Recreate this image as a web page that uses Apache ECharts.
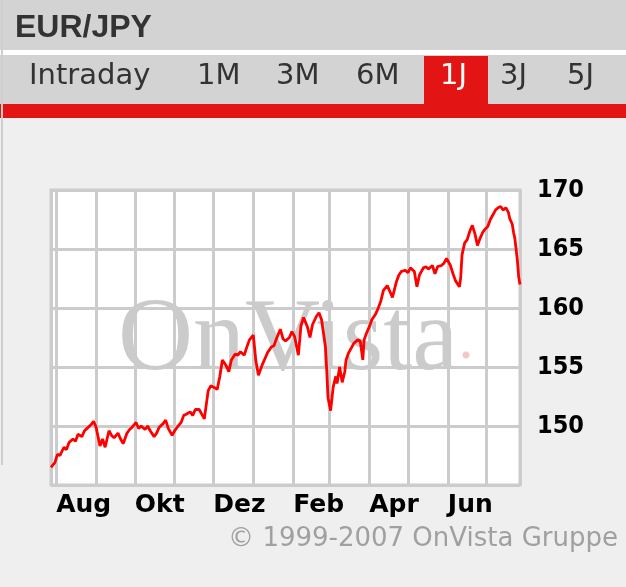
<!DOCTYPE html>
<html>
<head>
<meta charset="utf-8">
<script src="https://cdn.jsdelivr.net/npm/echarts@6/dist/echarts.min.js"></script>
<style>
html,body{margin:0;padding:0;background:#efefef;}
#chart{width:626px;height:587px;}
</style>
</head>
<body>
<div id="chart"></div>
<script>
const title = 'EUR/JPY';
const tabs = ['Intraday', '1M', '3M', '6M', '1J', '3J', '5J'];
const activeTab = '1J';
const monthNames = ['Jan','Feb','Mär','Apr','Mai','Jun','Jul','Aug','Sep','Okt','Nov','Dez'];
const yTicks = [145, 150, 155, 160, 165, 170];
const copyright = '© 1999-2007 OnVista Gruppe';

const dates = [
'2006-07-28','2006-07-31','2006-08-02','2006-08-04','2006-08-07','2006-08-09','2006-08-11','2006-08-14','2006-08-16','2006-08-18',
'2006-08-21','2006-08-23','2006-08-25','2006-08-28','2006-08-30','2006-09-01','2006-09-04','2006-09-06','2006-09-08','2006-09-11',
'2006-09-13','2006-09-15','2006-09-18','2006-09-20','2006-09-22','2006-09-25','2006-09-27','2006-09-29','2006-10-02','2006-10-04',
'2006-10-06','2006-10-09','2006-10-11','2006-10-13','2006-10-16','2006-10-18','2006-10-20','2006-10-23','2006-10-25','2006-10-27',
'2006-10-30','2006-11-01','2006-11-03','2006-11-06','2006-11-08','2006-11-10','2006-11-13','2006-11-15','2006-11-17','2006-11-20',
'2006-11-22','2006-11-24','2006-11-27','2006-11-29','2006-12-01','2006-12-04','2006-12-06','2006-12-08','2006-12-11','2006-12-13',
'2006-12-15','2006-12-18','2006-12-20','2006-12-22','2006-12-25','2006-12-27','2006-12-29','2007-01-01','2007-01-03','2007-01-05',
'2007-01-08','2007-01-10','2007-01-12','2007-01-15','2007-01-17','2007-01-19','2007-01-22','2007-01-24','2007-01-26','2007-01-29',
'2007-01-31','2007-02-02','2007-02-05','2007-02-07','2007-02-09','2007-02-12','2007-02-14','2007-02-16','2007-02-19','2007-02-21',
'2007-02-23','2007-02-26','2007-02-27','2007-02-28','2007-03-02','2007-03-04','2007-03-06','2007-03-07','2007-03-09','2007-03-11',
'2007-03-13','2007-03-14','2007-03-16','2007-03-18','2007-03-20','2007-03-23','2007-03-25','2007-03-27','2007-03-28','2007-03-30',
'2007-04-01','2007-04-03','2007-04-06','2007-04-08','2007-04-10','2007-04-12','2007-04-15','2007-04-17','2007-04-19','2007-04-22',
'2007-04-24','2007-04-26','2007-04-29','2007-05-01','2007-05-03','2007-05-06','2007-05-08','2007-05-10','2007-05-13','2007-05-15',
'2007-05-17','2007-05-20','2007-05-22','2007-05-24','2007-05-27','2007-05-29','2007-05-31','2007-06-03','2007-06-05','2007-06-07',
'2007-06-10','2007-06-11','2007-06-12','2007-06-14','2007-06-16','2007-06-18','2007-06-20','2007-06-22','2007-06-24','2007-06-26',
'2007-06-28','2007-06-30','2007-07-02','2007-07-04','2007-07-06','2007-07-08','2007-07-10','2007-07-12','2007-07-14','2007-07-16',
'2007-07-18','2007-07-19','2007-07-21','2007-07-22','2007-07-23','2007-07-24','2007-07-25','2007-07-26','2007-07-27'
];
const values = [
146.5,146.9,147.6,147.5,148.2,148.0,148.6,148.9,148.7,149.3,
149.1,149.6,149.8,150.1,150.4,149.9,148.3,148.9,148.2,149.6,
149.2,149.0,149.4,148.9,148.5,149.4,149.7,149.9,150.3,149.8,
150.0,149.7,150.0,149.6,149.1,149.4,149.9,150.2,150.5,149.8,
149.2,149.6,149.9,150.3,150.9,151.0,151.2,150.9,151.4,151.4,
151.0,150.6,153.0,153.4,153.3,153.1,154.2,155.6,155.1,154.6,
155.6,156.1,156.0,156.3,156.0,156.7,157.3,157.7,155.5,154.3,
155.2,155.7,156.2,156.7,156.8,157.4,158.2,157.4,157.2,157.5,
158.0,157.6,156.0,158.5,159.2,158.4,157.5,158.6,159.3,159.6,
159.0,156.7,154.7,152.4,151.3,153.3,154.2,153.6,155.0,153.7,
154.6,155.6,156.2,156.6,157.0,157.3,157.2,155.6,157.3,157.9,
158.4,159.0,159.5,160.0,160.6,161.5,161.9,161.4,160.9,162.2,
162.8,163.1,163.2,163.0,163.4,163.1,161.8,162.8,163.4,163.5,
163.3,163.6,162.9,163.5,163.6,163.8,164.2,163.6,162.9,162.3,
161.8,162.6,164.5,165.5,165.8,166.5,167.0,166.3,165.3,165.9,
166.4,166.7,166.9,167.5,167.9,168.3,168.5,168.6,168.3,168.5,
168.1,167.6,167.1,166.4,165.9,165.8,164.0,162.6,162.0
];

const chart = echarts.init(document.getElementById('chart'));
const seriesData = dates.map((d, i) => [d, values[i]]);

const tabPos = {'Intraday':29,'1M':197,'3M':276,'6M':356,'1J':440,'3J':500,'5J':567};
const graphics = [
  {type:'rect', shape:{x:0,y:0,width:626,height:50}, style:{fill:'#d3d3d3'}, z:-10},
  {type:'rect', shape:{x:0,y:50,width:626,height:5}, style:{fill:'#ffffff'}, z:-10},
  {type:'rect', shape:{x:0,y:55,width:626,height:49}, style:{fill:'#d3d3d3'}, z:-10},
  {type:'rect', shape:{x:0,y:104,width:626,height:14}, style:{fill:'#e31414'}, z:-10},
  {type:'rect', shape:{x:424,y:56,width:64,height:50}, style:{fill:'#e31414'}, z:-10},
  {type:'rect', shape:{x:1,y:0,width:2,height:465}, style:{fill:'#cfcfcf'}, z:-9},
  {type:'text', left:15, top:12, style:{text:title, font:'bold 32px "Liberation Sans", Arial, sans-serif', fill:'#333333'}, z:5}
];
tabs.forEach(t => {
  graphics.push({type:'text', left:tabPos[t], top:62, style:{text:t, font:'29px "DejaVu Sans", sans-serif', fill: t===activeTab ? '#ffffff' : '#333333'}, z:5});
});
graphics.push({
  type:'text', left:118, top:290, z:1, silent:true,
  style:{text:'{a|OnVista}{b|.}', rich:{a:{font:'104px "Liberation Serif", "Times New Roman", serif', fill:'#cbcbcb'}, b:{font:'60px "Liberation Serif", serif', fill:'#f0c8c8'}}}
});
graphics.push({type:'text', right:8, top:526, style:{text:copyright, font:'26px "DejaVu Sans", sans-serif', fill:'#a0a0a0'}, z:5});

chart.setOption({
  animation:false,
  backgroundColor:'#efefef',
  graphic: graphics,
  grid:{left:51, right:106, top:190, bottom:102, show:true, backgroundColor:'#ffffff', borderColor:'#cccccc', borderWidth:3},
  xAxis:{
    type:'time', min:dates[0], max:dates[dates.length-1],
    splitNumber:12, minInterval:28*864e5, maxInterval:31*864e5,
    axisLine:{show:false}, axisTick:{show:false},
    splitLine:{show:true, lineStyle:{color:'#cccccc', width:3}},
    axisLabel:{
      align:'left', margin:8, color:'#000', fontFamily:'DejaVu Sans', fontWeight:'bold', fontSize:25, hideOverlap:false,
      formatter:function(v){ const d=new Date(v); const m=d.getMonth(); return (m%2===1) ? monthNames[m] : ''; }
    }
  },
  yAxis:{
    type:'value', position:'right', min:yTicks[0], max:yTicks[yTicks.length-1], interval:5,
    axisLine:{show:false}, axisTick:{show:false},
    splitLine:{show:true, lineStyle:{color:'#cccccc', width:3}},
    axisLabel:{showMinLabel:false, margin:17, color:'#000', fontFamily:'DejaVu Sans Condensed, DejaVu Sans', fontWeight:'bold', fontSize:25}
  },
  series:[{
    type:'line', data:seriesData, showSymbol:false, z:3,
    lineStyle:{color:'#ff0000', width:2.8}
  }]
});
</script>
</body>
</html>
